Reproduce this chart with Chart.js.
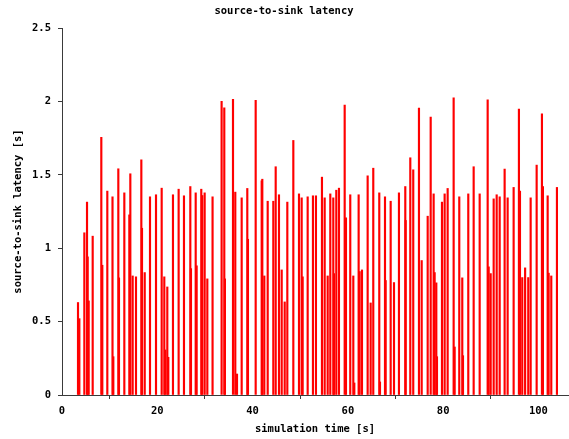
<!DOCTYPE html>
<html>
<head>
<meta charset="utf-8">
<title>source-to-sink latency</title>
<script src="https://cdn.jsdelivr.net/npm/chart.js@4.4.1/dist/chart.umd.min.js"></script>
<style>
  html, body { margin: 0; padding: 0; background: #fff; }
  #latency { display: block; }
</style>
</head>
<body>
<canvas id="latency" width="569" height="439"></canvas>
<script>
// simulation time of each delivered message [s]
const simTimes = [
  3.36, 3.64, 4.69, 5.25, 5.39, 5.6, 6.44, 8.25, 8.46, 9.51, 10.6, 10.77, 11.82, 11.96, 13.08, 14.13, 14.34, 14.83, 15.53, 16.65, 16.79, 17.36,
  18.47, 19.73, 20.92, 21.47, 21.68, 22.1, 22.31, 23.29, 24.48, 25.6, 26.93, 27.07, 28.06, 28.26, 29.23, 29.44, 29.94, 30.5, 31.6, 33.5, 34.06, 34.2, 35.89,
  36.37, 36.73, 37.71, 38.89, 39.03, 40.65, 41.91, 42.04, 42.46, 43.17, 44.35, 44.85, 45.54, 46.11, 46.74, 47.29, 48.55, 49.74, 50.3, 50.51, 51.56, 52.67, 53.3,
  54.56, 55.13, 55.76, 56.31, 56.94, 57.08, 57.57, 58.13, 59.33, 59.6, 60.5, 61.14, 61.35, 62.26, 62.47, 62.96, 64.15, 64.78, 65.33, 66.59, 66.74, 67.79, 67.93, 68.98, 69.68, 70.72, 72.05, 72.13,
  73.1, 73.72, 74.92, 75.49, 76.75, 77.38, 78.0, 78.21, 78.56, 78.7, 79.75, 80.31, 80.94, 82.2, 82.41, 83.38, 84.01, 84.16, 85.27, 86.4, 87.66, 89.34, 89.55, 89.97,
  90.6, 91.23, 91.86, 92.9, 93.53, 94.79, 95.9, 96.12, 96.6, 97.2, 97.86, 98.36, 99.62, 100.73, 100.94, 101.93, 102.14, 102.69, 103.88
];

// source-to-sink latency of each message [s]
const latencies = [
  0.63, 0.52, 1.105, 1.314, 0.941, 0.641, 1.082, 1.755, 0.884, 1.389, 1.35, 0.261, 1.541, 0.798, 1.377, 1.227, 1.507, 0.811, 0.805, 1.602, 1.136, 0.834,
  1.35, 1.364, 1.409, 0.805, 0.307, 0.736, 0.257, 1.364, 1.402, 1.357, 1.42, 0.861, 1.377, 0.88, 1.402, 1.359, 1.377, 0.791, 1.35, 2.0, 1.957, 0.791, 2.014,
  1.382, 0.143, 1.343, 1.407, 1.061, 2.007, 1.459, 1.47, 0.811, 1.32, 1.32, 1.555, 1.364, 0.852, 0.634, 1.314, 1.734, 1.37, 1.343, 0.805, 1.35, 1.357, 1.357,
  1.484, 1.343, 0.811, 1.37, 1.343, 0.827, 1.395, 1.409, 1.975, 1.207, 1.364, 0.811, 0.082, 1.364, 0.841, 0.852, 1.493, 0.627, 1.545, 1.377, 0.089, 1.35, 0.78, 1.32, 0.766, 1.377, 1.42, 1.189,
  1.616, 1.534, 1.955, 0.916, 1.218, 1.893, 1.37, 0.834, 0.764, 0.261, 1.314, 1.37, 1.407, 2.025, 0.327, 1.35, 0.798, 0.268, 1.37, 1.555, 1.37, 2.011, 0.873, 0.827,
  1.336, 1.364, 1.35, 1.539, 1.343, 1.414, 1.948, 1.389, 0.8, 0.866, 0.8, 1.343, 1.566, 1.916, 1.42, 1.357, 0.83, 0.811, 1.414
];

const xTicks = [0, 20, 40, 60, 80, 100];
const yTicks = [0, 0.5, 1, 1.5, 2, 2.5];

const monoBold = { family: "'DejaVu Sans Mono', monospace", size: 10.5, weight: 'bold' };
const axisColor = '#3a3a3a';

const impulses = simTimes.map((t, i) => ({ x: t, y: latencies[i] }));

new Chart(document.getElementById('latency'), {
  type: 'bar',
  data: {
    datasets: [{
      data: impulses,
      backgroundColor: '#ff0000',
      borderWidth: 0,
      barThickness: 1.5,
      grouped: false
    }]
  },
  options: {
    responsive: false,
    animation: false,
    devicePixelRatio: 1,
    layout: { padding: { right: 1 } },
    plugins: {
      legend: { display: false },
      tooltip: { enabled: false },
      title: {
        display: true,
        text: 'source-to-sink latency',
        color: '#000',
        font: monoBold,
        padding: { top: 5, bottom: 10.4 }
      }
    },
    scales: {
      x: {
        type: 'linear',
        min: 0,
        max: 106.2,
        offset: false,
        afterBuildTicks: (s) => { s.ticks = xTicks.map(v => ({ value: v })); },
        afterFit: (s) => { s.height = 44; },
        grid: { drawOnChartArea: false, drawTicks: true, tickLength: 4, color: axisColor },
        border: { display: true, color: axisColor, width: 1 },
        ticks: { color: '#000', font: monoBold, padding: 6, maxRotation: 0, autoSkip: false, callback: (v) => String(v) },
        title: {
          display: true,
          text: 'simulation time [s]',
          color: '#000',
          font: monoBold,
          padding: { top: 0, bottom: 3 }
        }
      },
      y: {
        min: 0,
        max: 2.5,
        afterBuildTicks: (s) => { s.ticks = yTicks.map(v => ({ value: v })); },
        afterFit: (s) => { s.width = 62; },
        grid: { drawOnChartArea: false, drawTicks: true, tickLength: 4, color: axisColor },
        border: { display: true, color: axisColor, width: 1 },
        ticks: { color: '#000', font: monoBold, padding: 7, callback: (v) => String(v) },
        title: {
          display: true,
          text: 'source-to-sink latency [s]',
          color: '#000',
          font: monoBold,
          padding: { top: 12, bottom: 0 }
        }
      }
    }
  }
});
</script>
</body>
</html>
